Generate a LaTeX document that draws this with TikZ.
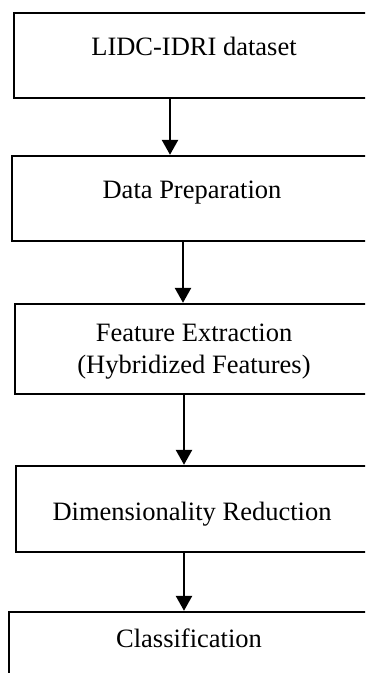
\documentclass[tikz,border=0pt]{standalone}
\usepackage{fontspec}
\setmainfont{Liberation Serif}
\usetikzlibrary{arrows.meta}
\begin{document}
\begin{tikzpicture}[x=1pt,y=-1pt,
  stagebox/.style={draw=black, line width=2.4pt, rectangle, inner sep=0pt, minimum width=400pt},
  stagetext/.style={font=\fontsize{26.5}{32}\selectfont, inner sep=0pt, anchor=base, align=center},
  flowarrow/.style={line width=2.6pt, -{Triangle[width=16pt,length=15pt]}}]
\useasboundingbox (0,0) rectangle (365,673);
\clip (0,0) rectangle (365,673);
\node[stagebox, minimum height=85pt] (b1) at (214,55.5) {};
\node[stagebox, minimum height=85pt] (b2) at (212,198.5) {};
\node[stagebox, minimum height=90pt] (b3) at (215,349) {};
\node[stagebox, minimum height=86pt] (b4) at (216,509) {};
\node[stagebox, minimum height=120pt] (b5) at (209,672) {};
\node[stagetext] (t1) at (194,55) {LIDC-IDRI dataset};
\node[stagetext] (t2) at (192,198) {Data Preparation};
\node[stagetext] (t3) at (194,373) {Feature Extraction\\(Hybridized Features)};
\node[stagetext] (t4) at (192,520) {Dimensionality Reduction};
\node[stagetext] (t5) at (189,647) {Classification};
\draw[flowarrow] (b1.south -| 170,0) -- (b2.north -| 170,0);
\draw[flowarrow] (b2.south -| 183,0) -- (b3.north -| 183,0);
\draw[flowarrow] (b3.south -| 184,0) -- (b4.north -| 184,0);
\draw[flowarrow] (b4.south -| 184,0) -- (b5.north -| 184,0);
\end{tikzpicture}
\end{document}
